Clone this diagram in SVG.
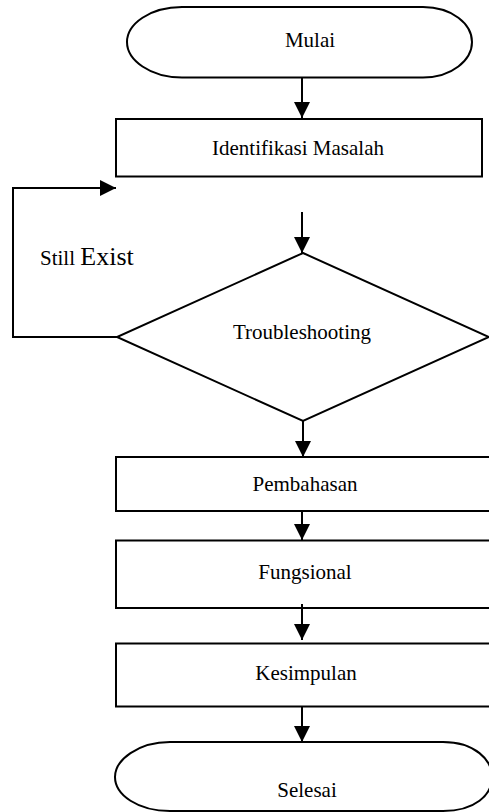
<svg xmlns="http://www.w3.org/2000/svg" width="489" height="812" viewBox="0 0 489 812">
<defs>
<style>
.shape{fill:#fff;stroke:#000;stroke-width:2}
.conn{fill:none;stroke:#000;stroke-width:2}
.lbl{font-family:"Liberation Serif","Times New Roman",serif;font-size:21px;fill:#000;text-anchor:middle}
</style>
<marker id="arr" markerUnits="userSpaceOnUse" markerWidth="16" markerHeight="16" refX="16" refY="8" orient="auto" viewBox="0 0 16 16">
<path d="M0,0 L16,8 L0,16 Z" fill="#000"/>
</marker>
</defs>
<rect width="489" height="812" fill="#fff"/>
<g id="mulai">
<path class="shape" d="M182,7 H423 C452,7 472,24 472,42 C472,60 452,77.5 423,77.5 H182 C150,77.5 127,60 127,42 C127,24 150,7 182,7 Z"/>
<text class="lbl" x="310" y="47">Mulai</text>
</g>
<g id="identifikasi">
<rect class="shape" x="116" y="119" width="366" height="57.5"/>
<text class="lbl" x="298" y="155">Identifikasi Masalah</text>
</g>
<g id="troubleshooting">
<polygon class="shape" points="303,253 489,337 303,421 117,337"/>
<text class="lbl" x="302" y="339">Troubleshooting</text>
</g>
<g id="pembahasan">
<rect class="shape" x="116" y="457" width="380" height="54"/>
<text class="lbl" x="305" y="491">Pembahasan</text>
</g>
<g id="fungsional">
<rect class="shape" x="116" y="540.5" width="380" height="67.5"/>
<text class="lbl" x="305" y="579">Fungsional</text>
</g>
<g id="kesimpulan">
<rect class="shape" x="116" y="643.5" width="380" height="63"/>
<text class="lbl" x="306" y="680">Kesimpulan</text>
</g>
<g id="selesai">
<path class="shape" d="M170,742 H443 C475,742 492,760 492,777 C492,795 475,811 443,811 H170 C138,811 115,795 115,777 C115,760 138,742 170,742 Z"/>
<text class="lbl" x="307" y="797">Selesai</text>
</g>
<g id="connectors">
<path class="conn" d="M302,78 V118" marker-end="url(#arr)"/>
<path class="conn" d="M117,337 H13 V188 H116" marker-end="url(#arr)"/>
<path class="conn" d="M302,212 V253" marker-end="url(#arr)"/>
<path class="conn" d="M303,421 V457" marker-end="url(#arr)"/>
<path class="conn" d="M302,511 V540" marker-end="url(#arr)"/>
<path class="conn" d="M302,604 V640" marker-end="url(#arr)"/>
<path class="conn" d="M302,707 V742" marker-end="url(#arr)"/>
</g>
<text x="40" y="265" font-family="Liberation Serif, Times New Roman, serif" fill="#000"><tspan font-size="21">Still </tspan><tspan font-size="26">Exist</tspan></text>
</svg>
